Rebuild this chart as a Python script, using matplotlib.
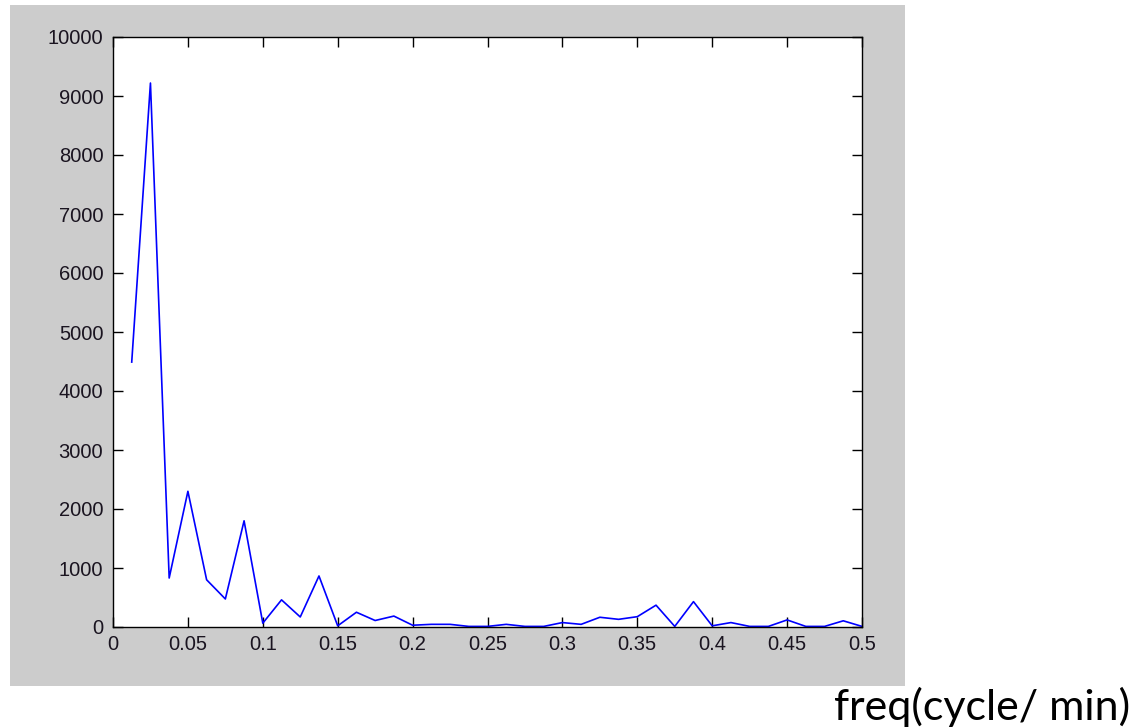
import numpy as np
import matplotlib.pyplot as plt
from matplotlib.patches import Rectangle

# 频谱: 频率 k/80 (k = 1..40), 幅值
freq = np.arange(1, 41) / 80.0
amp = [4490, 9220, 830, 2300, 800, 475, 1800, 65, 460, 170,
       865, 20, 250, 110, 185, 30, 45, 45, 10, 10,
       45, 10, 10, 75, 45, 165, 130, 175, 370, 10,
       430, 20, 75, 10, 10, 120, 10, 10, 105, 10]

xticks = [0, 0.05, 0.1, 0.15, 0.2, 0.25, 0.3, 0.35, 0.4, 0.45, 0.5]
xtick_labels = ['0', '0.05', '0.1', '0.15', '0.2', '0.25', '0.3', '0.35', '0.4', '0.45', '0.5']
yticks = list(range(0, 10001, 1000))


def main():
    W, H = 1140, 728
    fig = plt.figure(figsize=(W / 100, H / 100), dpi=100)
    fig.patch.set_facecolor('white')

    # 灰色窗口背景
    fig.patches.append(Rectangle((10 / W, 1 - 686 / H), 895 / W, 681 / H,
                                 transform=fig.transFigure, facecolor='#cccccc',
                                 edgecolor='none', zorder=-5))

    ax = fig.add_axes([113 / W, 1 - 627 / H, 749 / W, 590 / H])
    ax.set_zorder(2)
    ax.set_facecolor('white')
    ax.plot(freq, amp, color='#0000ff', lw=1.2)

    ax.set_xlim(0, 0.5)
    ax.set_ylim(0, 10000)
    ax.set_xticks(xticks)
    ax.set_xticklabels(xtick_labels)
    ax.set_yticks(yticks)
    ax.tick_params(direction='in', length=7, width=1, top=True, right=True,
                   labelsize=14.5, pad=6, colors='black')
    ax.tick_params(axis='y', pad=7)
    for lab in ax.get_xticklabels() + ax.get_yticklabels():
        lab.set_family('Liberation Sans')
        lab.set_color('#1a1420')
    for s in ax.spines.values():
        s.set_linewidth(1.0)

    fig.text(1130 / W, 1 - 720 / H, 'freq(cycle/ min)', ha='right', va='baseline',
             fontsize=31, family='Lato', color='black')

    plt.savefig('out.png', dpi=100)


if __name__ == '__main__':
    main()
